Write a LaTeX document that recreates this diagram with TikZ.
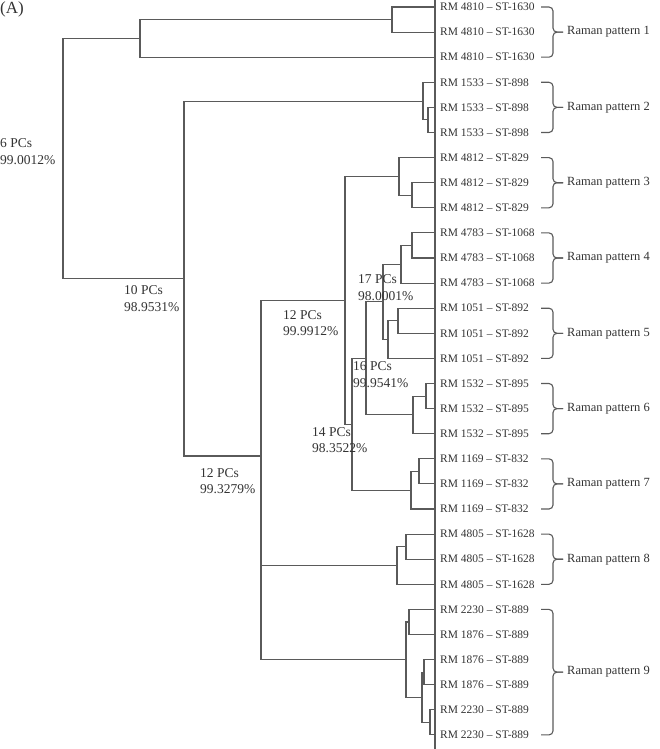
\documentclass[tikz,border=0pt]{standalone}
\usepackage{fontspec}
\setmainfont{Liberation Serif}
\usetikzlibrary{calc}
\definecolor{lc}{HTML}{5A5A5A}
\definecolor{tc}{HTML}{333333}
\tikzset{
  br/.style={draw=lc, line width=1.1pt},
  bracketline/.style={draw=lc, line width=1.1pt, rounded corners=4pt},
  leaflabel/.style={anchor=west, inner sep=0pt, text=tc, font=\fontsize{11.5}{13}\selectfont},
  patlabel/.style={anchor=west, inner sep=0pt, text=tc, font=\fontsize{12.5}{14}\selectfont},
  pclabel/.style={anchor=west, inner sep=0pt, align=left, text=tc, font=\fontsize{13.5}{16.5}\selectfont},
}
\begin{document}
\begin{tikzpicture}[x=1pt,y=-1pt]
\useasboundingbox (0,0) rectangle (660,749);
% leaves
\foreach \i in {0,...,29}{\coordinate (l\i) at (435,{7+25.1*\i});}
\coordinate (axtop) at (435,0);
\coordinate (axbot) at (435,749);
\draw[br] (axtop) -- (axbot);
% join points
\coordinate (p1a) at (392,19.55);
\coordinate (p1) at (140,38.38);
\coordinate (p2a) at (428,119.95);
\coordinate (p2) at (423,101.13);
\coordinate (p3a) at (412,195.25);
\coordinate (p3) at (399,176.43);
\coordinate (p4a) at (412,245.45);
\coordinate (p4) at (401,264.28);
\coordinate (p5a) at (398,320.75);
\coordinate (p5) at (388,339.58);
\coordinate (n17) at (383,301.93);
\coordinate (p6a) at (426,396.05);
\coordinate (p6) at (413,414.88);
\coordinate (n16) at (366,358.4);
\coordinate (p7a) at (419,471.35);
\coordinate (p7) at (411,490.18);
\coordinate (n14) at (352,424.29);
\coordinate (n12a) at (345,300.36);
\coordinate (p8a) at (406,546.65);
\coordinate (p8) at (397,565.48);
\coordinate (p9a) at (409,621.95);
\coordinate (p9b) at (424,672.15);
\coordinate (p9c) at (430,722.35);
\coordinate (p9d) at (422,697.25);
\coordinate (p9) at (406,659.6);
\coordinate (n12b) at (261,456);
\coordinate (n10) at (184,278.57);
\coordinate (root) at (63,158.5);
% tree
\draw[br] (l0) -| (p1a) |- (l1);
\draw[br] (p1a) -| (p1) |- (l2);
\draw[br] (p1) -| (root) |- (n10);
\draw[br] (l4) -| (p2a) |- (l5);
\draw[br] (l3) -| (p2) |- (p2a);
\draw[br] (p2) -| (n10) |- (n12b);
\draw[br] (n12a) -| (n12b) |- (p9);
\draw[br] (n12b |- p8) -- (p8);
\draw[br] (l7) -| (p3a) |- (l8);
\draw[br] (l6) -| (p3) |- (p3a);
\draw[br] (p3) -| (n12a) |- (n14);
\draw[br] (l9) -| (p4a) |- (l10);
\draw[br] (p4a) -| (p4) |- (l11);
\draw[br] (l12) -| (p5a) |- (l13);
\draw[br] (p5a) -| (p5) |- (l14);
\draw[br] (p4) -| (n17) |- (p5);
\draw[br] (l15) -| (p6a) |- (l16);
\draw[br] (p6a) -| (p6) |- (l17);
\draw[br] (n17) -| (n16) |- (p6);
\draw[br] (l18) -| (p7a) |- (l19);
\draw[br] (p7a) -| (p7) |- (l20);
\draw[br] (n16) -| (n14) |- (p7);
\draw[br] (l21) -| (p8a) |- (l22);
\draw[br] (p8a) -| (p8) |- (l23);
\draw[br] (l24) -| (p9a) |- (l25);
\draw[br] (l26) -| (p9b) |- (l27);
\draw[br] (l28) -| (p9c) |- (l29);
\draw[br] (p9b) -| (p9d) |- (p9c);
\draw[br] (p9a) -| (p9) |- (p9d);
% leaf labels
\foreach \i/\t in {0/{RM 4810 – ST-1630},1/{RM 4810 – ST-1630},2/{RM 4810 – ST-1630},
  3/{RM 1533 – ST-898},4/{RM 1533 – ST-898},5/{RM 1533 – ST-898},
  6/{RM 4812 – ST-829},7/{RM 4812 – ST-829},8/{RM 4812 – ST-829},
  9/{RM 4783 – ST-1068},10/{RM 4783 – ST-1068},11/{RM 4783 – ST-1068},
  12/{RM 1051 – ST-892},13/{RM 1051 – ST-892},14/{RM 1051 – ST-892},
  15/{RM 1532 – ST-895},16/{RM 1532 – ST-895},17/{RM 1532 – ST-895},
  18/{RM 1169 – ST-832},19/{RM 1169 – ST-832},20/{RM 1169 – ST-832},
  21/{RM 4805 – ST-1628},22/{RM 4805 – ST-1628},23/{RM 4805 – ST-1628},
  24/{RM 2230 – ST-889},25/{RM 1876 – ST-889},26/{RM 1876 – ST-889},
  27/{RM 1876 – ST-889},28/{RM 2230 – ST-889},29/{RM 2230 – ST-889}}
  {\node[leaflabel] (t\i) at ([xshift=5pt]l\i) {\t};}
% brackets
\foreach \k/\a/\b in {1/0/2,2/3/5,3/6/8,4/9/11,5/12/14,6/15/17,7/18/20,8/21/23,9/24/29}{
  \coordinate (bt\k) at ([xshift=106pt]l\a);
  \coordinate (bb\k) at ([xshift=106pt]l\b);
  \coordinate (bv\k) at ($(l\a)!0.5!(l\b)+(118,0)$);
  \coordinate (tip\k) at ($(l\a)!0.5!(l\b)+(128,0)$);
  \draw[bracketline] (bt\k) -| (bv\k) -- (tip\k);
  \draw[bracketline] (bb\k) -| (bv\k) -- (tip\k);
  \node[patlabel] (r\k) at ([xshift=4pt]tip\k) {Raman pattern \k};
}
% PC labels
\node[pclabel] (lab6) at (0,151.5) {6 PCs\\99.0012\%};
\node[pclabel] (lab10) at (124,298.5) {10 PCs\\98.9531\%};
\node[pclabel] (lab12a) at (283,323) {12 PCs\\99.9912\%};
\node[pclabel] (lab17) at (358,287.5) {17 PCs\\98.0001\%};
\node[pclabel] (lab16) at (353,374.5) {16 PCs\\99.9541\%};
\node[pclabel] (lab14) at (312,440) {14 PCs\\98.3522\%};
\node[pclabel] (lab12b) at (200,481) {12 PCs\\99.3279\%};
\node[anchor=west, inner sep=0pt, text=tc, font=\fontsize{17}{19}\selectfont] (title) at (0,9) {(A)};
\end{tikzpicture}
\end{document}
